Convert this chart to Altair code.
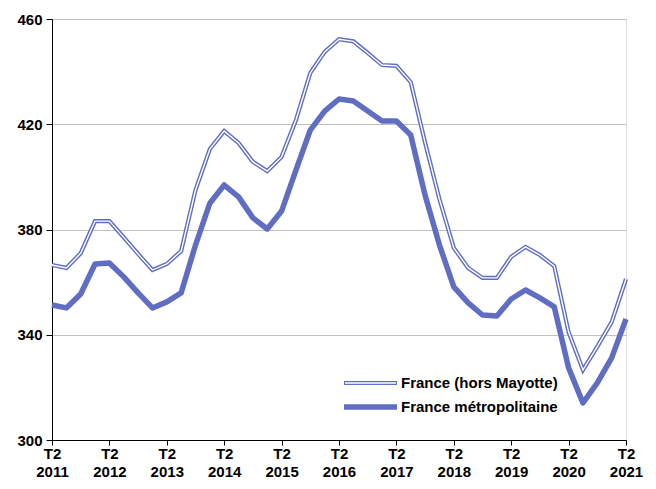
import altair as alt
import pandas as pd

# Quarterly index: 0 = T2 2011 ... 40 = T2 2021
quarters = list(range(41))

france_hors_mayotte = [
    366.5, 365.4, 371.0, 383.2, 383.2, 377.0, 370.7, 364.6, 366.9, 371.8,
    395.0, 410.6, 417.4, 412.9, 405.7, 402.2, 407.6, 421.6, 439.5, 447.5,
    452.3, 451.5, 447.1, 442.5, 442.2, 436.0, 413.0, 391.5, 373.0, 365.4,
    361.6, 361.6, 369.6, 373.4, 370.3, 366.1, 341.0, 326.6, 335.5, 344.8,
    361.2,
]
france_metro = [
    351.3, 350.2, 355.5, 366.9, 367.3, 362.0, 355.9, 350.2, 352.5, 355.9,
    374.1, 390.0, 396.9, 392.4, 384.4, 380.2, 387.0, 402.6, 417.8, 425.0,
    429.6, 428.8, 425.0, 421.2, 421.2, 415.9, 393.0, 374.1, 358.2, 352.1,
    347.5, 347.1, 353.6, 357.0, 354.0, 350.6, 327.4, 314.1, 321.7, 331.2,
    346.0,
]
series_names = ["France (hors Mayotte)", "France métropolitaine"]
y_ticks = [300, 340, 380, 420, 460]
x_ticks = list(range(0, 41, 4))

BLUE = "#5F6DC2"
FONT = "Liberation Sans"

df = pd.DataFrame({
    "q": quarters * 2,
    "v": france_hors_mayotte + france_metro,
    "s": [series_names[0]] * 41 + [series_names[1]] * 41,
})
df_hm = df[df["s"] == series_names[0]]
df_fm = df[df["s"] == series_names[1]]

x_enc = alt.X(
    "q:Q",
    scale=alt.Scale(domain=[0, 40], nice=False, zero=False),
    axis=alt.Axis(
        values=x_ticks,
        labelExpr="['T2', '' + (2011 + datum.value / 4)]",
        grid=False,
        title=None,
        domainColor="#000000",
        tickColor="#000000",
        tickSize=5,
        labelFontSize=15,
        labelFont=FONT,
        labelFontWeight="bold",
        labelColor="#000000",
        labelLineHeight=18,
        labelPadding=1,
        labelFlush=False,
        labelOverlap=False,
    ),
)
y_enc = alt.Y(
    "v:Q",
    scale=alt.Scale(domain=[300, 460], nice=False, zero=False),
    axis=alt.Axis(
        values=y_ticks,
        grid=True,
        gridColor="#C0C0C0",
        gridWidth=1,
        title=None,
        domainColor="#000000",
        tickColor="#000000",
        tickSize=6,
        labelFontSize=15,
        labelFont=FONT,
        labelFontWeight="bold",
        labelColor="#000000",
        labelPadding=4,
        labelFlush=False,
    ),
)

outer = alt.Chart(df_hm).mark_line(color=BLUE, strokeWidth=4.2, strokeJoin="miter").encode(
    x=x_enc, y=y_enc
)
inner = alt.Chart(df_hm).mark_line(color="white", strokeWidth=1.4, strokeJoin="miter").encode(
    x="q:Q", y="v:Q"
)
metro = alt.Chart(df_fm).mark_line(color=BLUE, strokeWidth=5.5, strokeJoin="round").encode(
    x="q:Q", y="v:Q"
)

# Legend (manual, to reproduce the double-line symbol)
leg = pd.DataFrame({"label": series_names})
leg1 = leg.iloc[[0]]
leg2 = leg.iloc[[1]]
l1_outer = alt.Chart(leg1).mark_rule(color=BLUE, strokeWidth=4.2).encode(
    x=alt.value(292), x2=alt.value(345), y=alt.value(364)
)
l1_inner = alt.Chart(leg1).mark_rule(color="white", strokeWidth=1.4).encode(
    x=alt.value(293), x2=alt.value(344), y=alt.value(364)
)
l2 = alt.Chart(leg2).mark_rule(color=BLUE, strokeWidth=5.5).encode(
    x=alt.value(292), x2=alt.value(345), y=alt.value(388)
)
t1 = alt.Chart(leg1).mark_text(
    align="left", baseline="middle", font=FONT, fontWeight="bold", fontSize=15, color="#000000"
).encode(x=alt.value(349), y=alt.value(364), text="label:N")
t2 = alt.Chart(leg2).mark_text(
    align="left", baseline="middle", font=FONT, fontWeight="bold", fontSize=15, color="#000000"
).encode(x=alt.value(349), y=alt.value(388), text="label:N")

chart = alt.layer(outer, inner, metro, l1_outer, l1_inner, l2, t1, t2).properties(
    width=574,
    height=421,
    autosize=alt.AutoSizeParams(type="none"),
    padding={"left": 44, "top": 11, "right": 22, "bottom": 41},
).configure_view(
    stroke="#C0C0C0", strokeWidth=2
).configure(background="white")

chart.save("out.html", embed_options={"renderer": "svg", "actions": False})
